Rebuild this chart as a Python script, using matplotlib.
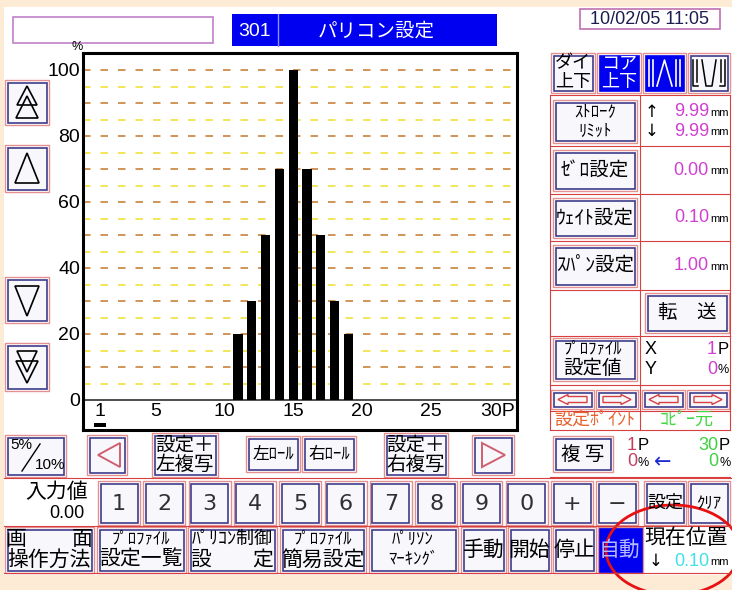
import numpy as np
import matplotlib.pyplot as plt
from matplotlib.patches import Rectangle, Polygon, Ellipse

# ---- data ----
points = list(range(1, 31))
profile_pct = [0, 0, 0, 0, 0, 0, 0, 0, 0, 0,
               20, 30, 50, 70, 100, 70, 50, 30, 20, 0,
               0, 0, 0, 0, 0, 0, 0, 0, 0, 0]
y_ticks = [0, 20, 40, 60, 80, 100]
x_ticks = [1, 5, 10, 15, 20, 25, 30]
x_tick_labels = ['1', '5', '10', '15', '20', '25', '30P']
cursor_point = 1

screen_no = '301'
screen_title = 'パリコン設定'
date_str = '10/02/05 11:05'
stroke_up = '9.99'
stroke_down = '9.99'
zero_set = '0.00'
weight_set = '0.10'
span_set = '1.00'
input_value = '0.00'
current_pos = '0.10'
sel_x, sel_y = '1', '0'
copy_from, copy_to = ('1', '0'), ('30', '0')
keypad = ['1', '2', '3', '4', '5', '6', '7', '8', '9', '0', '+', '−']

JP = ['Noto Sans CJK JP', 'DejaVu Sans']
NUM = ['Liberation Sans', 'DejaVu Sans']

PEACH = '#fdebd6'
NAVY = '#3c3c8c'
PINK = '#e49090'
RED = '#d84040'
BLUE = '#0000f0'
FACE = '#f7f7fc'
MAG = '#d040d0'

fig = plt.figure(figsize=(7.32, 5.90), dpi=100, facecolor=PEACH)
ui = fig.add_axes([0, 0, 1, 1])
ui.set_xlim(0, 732)
ui.set_ylim(590, 0)
ui.axis('off')


def txt(x, y, s, size=13, color='black', ha='center', fam=JP, **kw):
    ui.text(x, y, s, fontsize=size, color=color, ha=ha, va='center', family=fam, **kw)


def btn(x0, y0, x1, y1, face=FACE, inner=NAVY):
    ui.add_patch(Rectangle((x0, y0), x1 - x0, y1 - y0, fc='white', ec=PINK, lw=1.0))
    ui.add_patch(Rectangle((x0 + 2.5, y0 + 2.5), x1 - x0 - 5, y1 - y0 - 5, fc=face, ec=inner, lw=1.2))


def tri(pts, ec='black', lw=1.2, fc='none'):
    ui.add_patch(Polygon(pts, closed=True, fc=fc, ec=ec, lw=lw))


# white screen area
ui.add_patch(Rectangle((4, 7), 728, 568, fc='white', ec='none'))

# ---- top bar ----
ui.add_patch(Rectangle((13, 17), 200, 26, fc='white', ec='#c080c8', lw=1.2))
ui.add_patch(Rectangle((232, 14), 265, 32, fc=BLUE, ec='none'))
ui.plot([278, 278], [14, 46], color='#9090ff', lw=1)
txt(255, 31, screen_no, 14, 'white', fam=NUM)
txt(376, 31, screen_title, 14, 'white')
ui.add_patch(Rectangle((580, 9), 140, 20, fc='white', ec='#c070b0', lw=1.2))
txt(650, 19, date_str, 13, '#1c1c50', fam=NUM)

# ---- left arrow buttons ----
for (y0, y1) in [(80, 125), (145, 192), (277, 323), (343, 391)]:
    btn(5, y0, 49, y1)
cx = 27
tri([(cx, 86), (cx - 10, 105), (cx + 10, 105)])
tri([(cx, 96), (cx - 11, 118), (cx + 11, 118)])
tri([(cx, 153), (cx - 12, 183), (cx + 12, 183)])
tri([(cx, 316), (cx - 12, 286), (cx + 12, 286)])
tri([(cx, 383), (cx - 11, 361), (cx + 11, 361)])
tri([(cx, 372), (cx - 10, 351), (cx + 10, 351)])

# ---- chart ----
L, R, T, B = 83, 517, 53, 430
ax = fig.add_axes([L / 732, 1 - B / 590, (R - L) / 732, (B - T) / 590])
ppx = 13.8
ax.set_xlim(1 + (L - 100) / ppx, 1 + (R - 100) / ppx)
ax.set_ylim((400 - B) / 3.3, (400 - T) / 3.3)
ax.set_facecolor('white')
for v in range(5, 100, 10):
    ax.axhline(v, color='#f2e23c', lw=1.2, dashes=(4.5, 6.0), zorder=1)
for v in range(10, 101, 10):
    ax.axhline(v, color='#c8823a', lw=1.2, dashes=(4.5, 6.0), zorder=1)
ax.axhline(0, color='#404040', lw=1.3, zorder=2)
ax.bar(points, profile_pct, width=0.66, color='black', zorder=3)
ax.add_patch(Rectangle((cursor_point - 0.45, -8.2), 0.9, 1.3, fc='black', ec='none'))
for xt, lab in zip(x_ticks, x_tick_labels):
    if lab.endswith('P'):
        ax.text(xt + 1.05, -3.4, lab, ha='right', va='center', fontsize=14, family=NUM)
    else:
        ax.text(xt, -3.4, lab, ha='center', va='center', fontsize=14, family=NUM)
ax.set_xticks([])
ax.set_yticks(y_ticks)
ax.set_yticklabels([str(t) for t in y_ticks], family=NUM, fontsize=14)
ax.tick_params(axis='y', length=0, pad=2)
for s in ax.spines.values():
    s.set_linewidth(2.2)
txt(77, 47, '%', 9, fam=NUM)

# ---- right panel ----
for y in [95, 146, 194, 241, 290, 336, 385, 411, 430, 477]:
    ui.plot([550, 730], [y, y], color=RED, lw=0.8)
for x in [550, 640, 730]:
    ui.plot([x, x], [95, 430], color=RED, lw=0.8)

# row 1
btn(551, 53, 595, 93)
txt(573, 63, 'ダイ', 13)
txt(573, 82, '上下', 13)
btn(597, 53, 641, 93, face=BLUE, inner=BLUE)
txt(619, 63, 'コア', 13, 'white')
txt(619, 82, '上下', 13, 'white')
btn(643, 53, 686, 93, face=BLUE, inner=BLUE)
gx0, gx1, gt, gb = 649, 680, 60, 86
for xx in [gx0, gx0 + 4, gx1 - 4, gx1]:
    ui.plot([xx, xx], [gt, gb], color='white', lw=1.2)
ui.plot([gx0 + 8, (gx0 + gx1) / 2, gx1 - 8], [gb, gt, gb], color='white', lw=1.2)
btn(688, 53, 730, 93)
gx0, gx1 = 693, 725
ui.plot([gx0, gx0, gx0 + 5], [gt, gb, gb], color='black', lw=1.1)
ui.plot([gx0 + 4, gx0 + 4], [gt, gb - 4], color='black', lw=1.1)
ui.plot([gx1, gx1, gx1 - 5], [gt, gb, gb], color='black', lw=1.1)
ui.plot([gx1 - 4, gx1 - 4], [gt, gb - 4], color='black', lw=1.1)
ui.plot([gx0 + 9, (gx0 + gx1) / 2 - 3, (gx0 + gx1) / 2 + 3, gx1 - 9], [gt, gb, gb, gt], color='black', lw=1.1)

# value rows
btn(553, 100, 637, 143)
txt(595, 112, 'ｽﾄﾛｰｸ', 12)
txt(595, 131, 'ﾘﾐｯﾄ', 12)
txt(652, 112, '↑', 12, fam=['DejaVu Sans'])
txt(652, 131, '↓', 12, fam=['DejaVu Sans'])
txt(709, 112, stroke_up, 13, MAG, ha='right', fam=NUM)
txt(709, 131, stroke_down, 13, MAG, ha='right', fam=NUM)
txt(710, 113, 'mm', 8, ha='left', fam=NUM)
txt(710, 132, 'mm', 8, ha='left', fam=NUM)

for (y0, y1, lab, val) in [(150, 191, 'ｾﾞﾛ設定', zero_set),
                           (198, 238, 'ｳｪｲﾄ設定', weight_set),
                           (245, 287, 'ｽﾊﾟﾝ設定', span_set)]:
    btn(553, y0, 637, y1)
    yc = (y0 + y1) / 2
    txt(595, yc, lab, 14)
    txt(709, yc, val, 13, MAG, ha='right', fam=NUM)
    txt(710, yc + 1, 'mm', 8, ha='left', fam=NUM)

btn(645, 293, 729, 333)
txt(687, 313, '転　送', 14)

btn(553, 338, 637, 381)
txt(593, 349, 'ﾌﾟﾛﾌｧｲﾙ', 12)
txt(593, 369, '設定値', 14)
txt(651, 349, 'X', 13, fam=NUM)
txt(651, 369, 'Y', 13, fam=NUM)
txt(717, 349, sel_x, 13, MAG, ha='right', fam=NUM)
txt(718, 349, 'P', 12, ha='left', fam=NUM)
txt(717, 369, sel_y, 13, MAG, ha='right', fam=NUM)
txt(718, 370, '%', 9, ha='left', fam=NUM)

# small arrow keys
for i, (xa, xb) in enumerate([(551, 594), (596, 638), (642, 685), (687, 729)]):
    btn(xa, 390, xb, 409)
    cy = 399.5
    if i % 2 == 0:
        tri([(xa + 7, cy), (xa + 17, cy - 5), (xa + 17, cy - 3), (xb - 7, cy - 3),
             (xb - 7, cy + 3), (xa + 17, cy + 3), (xa + 17, cy + 5)], ec=RED, lw=1.0)
    else:
        tri([(xb - 7, cy), (xb - 17, cy - 5), (xb - 17, cy - 3), (xa + 7, cy - 3),
             (xa + 7, cy + 3), (xb - 17, cy + 3), (xb - 17, cy + 5)], ec=RED, lw=1.0)
txt(595, 420, '設定ﾎﾟｲﾝﾄ', 13, '#e8602c')
txt(687, 420, 'ｺﾋﾟｰ元', 13, '#40d840')

btn(553, 436, 613, 472)
txt(583, 454, '複 写', 14)
txt(637, 445, copy_from[0], 13, '#c04060', ha='right', fam=NUM)
txt(638, 445, 'P', 12, ha='left', fam=NUM)
txt(637, 462, copy_from[1], 13, '#c04060', ha='right', fam=NUM)
txt(638, 463, '%', 9, ha='left', fam=NUM)
txt(663, 462, '←', 15, '#1c2cd0', fam=['DejaVu Sans'])
txt(718, 445, copy_to[0], 13, '#40d040', ha='right', fam=NUM)
txt(719, 445, 'P', 12, ha='left', fam=NUM)
txt(718, 462, copy_to[1], 13, '#40d040', ha='right', fam=NUM)
txt(719, 463, '%', 9, ha='left', fam=NUM)

# ---- bottom row A ----
btn(5, 435, 66, 477)
txt(21, 445, '5%', 11, fam=NUM)
ui.plot([22, 40], [471, 444], color='black', lw=1.0)
txt(50, 465, '10%', 11, fam=NUM)
btn(87, 435, 127, 475)
tri([(98, 455), (120, 443), (120, 467)], ec='#d06070', lw=1.4)
btn(152, 433, 218, 477)
txt(185, 445, '設定＋', 14)
txt(185, 464, '左複写', 14)
btn(246, 436, 300, 472)
txt(273, 454, '左ﾛｰﾙ', 12)
btn(302, 436, 356, 472)
txt(329, 454, '右ﾛｰﾙ', 12)
btn(384, 433, 448, 477)
txt(416, 445, '設定＋', 14)
txt(416, 464, '右複写', 14)
btn(472, 435, 514, 475)
tri([(505, 455), (482, 443), (482, 467)], ec='#d06070', lw=1.4)

# ---- bottom row B ----
for y in [478, 526, 573]:
    ui.plot([4, 731], [y, y], color=RED, lw=0.8)
txt(57, 492, '入力値', 15)
txt(85, 513, input_value, 13, ha='right', fam=NUM)
for i, k in enumerate(keypad):
    xa = 98 + i * 45.3
    btn(xa, 481, xa + 42, 525)
    txt(xa + 21, 504, k, 16, '#303030', fam=['DejaVu Sans'])
btn(644, 481, 686, 525)
txt(665, 503, '設定', 13)
btn(688, 481, 730, 525)
txt(709, 503, 'ｸﾘｱ', 12)

# ---- bottom row C ----
btn(5, 527, 94, 573)
txt(16, 539, '画', 15)
txt(82, 539, '面', 15)
txt(49, 560, '操作方法', 15)
btn(97, 527, 186, 573)
txt(141, 539, 'ﾌﾟﾛﾌｧｲﾙ', 12)
txt(141, 560, '設定一覧', 15)
btn(188, 527, 277, 573)
txt(232, 539, 'ﾊﾟﾘｺﾝ制御', 13)
txt(201, 560, '設', 15)
txt(263, 560, '定', 15)
btn(280, 527, 366, 573)
txt(323, 539, 'ﾌﾟﾛﾌｧｲﾙ', 12)
txt(323, 560, '簡易設定', 15)
btn(369, 527, 458, 573)
txt(413, 539, 'ﾊﾟﾘｿﾝ', 12)
txt(413, 559, 'ﾏｰｷﾝｸﾞ', 12)
for (xa, xb, lab) in [(461, 506, '手動'), (508, 551, '開始'), (553, 596, '停止')]:
    btn(xa, 527, xb, 573)
    txt((xa + xb) / 2, 550, lab, 15)
ui.add_patch(Rectangle((598, 527), 45, 46, fc=BLUE, ec=PINK, lw=1.0))
txt(620, 550, '自動', 15, '#b8b8ff')
txt(686, 538, '現在位置', 15)
txt(656, 561, '↓', 12, fam=['DejaVu Sans'])
txt(709, 561, current_pos, 13, '#40e0e8', ha='right', fam=NUM)
txt(710, 562, 'mm', 8, ha='left', fam=NUM)

ui.add_patch(Ellipse((673, 550), 134, 90, fc='none', ec='#e81010', lw=2.0, clip_on=False))

fig.savefig('out.png', dpi=100, facecolor=PEACH)
